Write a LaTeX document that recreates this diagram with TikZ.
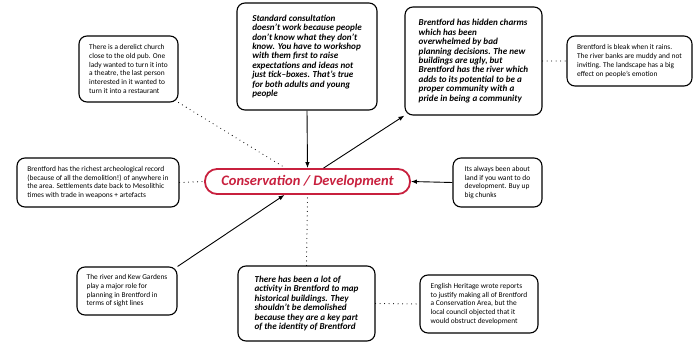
\documentclass[tikz,border=0pt]{standalone}
\usepackage{fontspec}
\setmainfont{Carlito}
\usetikzlibrary{arrows.meta,calc}
\definecolor{conred}{RGB}{200,32,62}

\begin{document}
\begin{tikzpicture}[x=1pt,y=-1pt,%
    note/.style={draw,line width=1.1pt,rounded corners=8pt,align=left,%
    inner sep=4pt,font=\fontsize{7.4}{8.7}\selectfont},%
    quote/.style={note,font=\fontsize{9.1}{9.4}\selectfont\bfseries\itshape},%
    hub/.style={draw=conred,line width=1.8pt,rounded corners=12pt,text=conred,%
    minimum width=205pt,minimum height=25pt,inner sep=0pt,%
    font=\fontsize{14.5}{16}\selectfont\bfseries\itshape},%
    arr/.style={line width=0.9pt,-{Latex[length=6pt,width=4.5pt]}},%
    link/.style={line width=1.1pt,line cap=round,dash pattern=on 0pt off 4.5pt}]
  \useasboundingbox (0,0) rectangle (700,342);
  \node[hub] (central) at (307.5,181.5) {Conservation / Development};
  \node[note,minimum width=99pt,minimum height=66pt] (church) at (128.5,69)
    {There is a derelict church\\close to the old pub. One\\lady wanted to turn it into\\%
     a theatre, the last person\\interested in it wanted to\\turn it into a restaurant};
  \node[quote,minimum width=140pt,minimum height=107pt] (consult) at (307,56.5)
    {Standard consultation\\doesn't work because people\\don't know what they don't\\%
     know. You have to workshop\\with them first to raise\\expectations and ideas not\\%
     just tick--boxes. That's true\\for both adults and young\\people};
  \node[quote,minimum width=137pt,minimum height=108pt] (charms) at (473.5,61)
    {Brentford has hidden charms\\which has been\\overwhelmed by bad\\%
     planning decisions. The new\\buildings are ugly, but\\Brentford has the river which\\%
     adds to its potential to be a\\proper community with a\\pride in being a community};
  \node[note,minimum width=125pt,minimum height=50pt] (bleak) at (629.5,61)
    {Brentford is bleak when it rains.\\The river banks are muddy and not\\%
     inviting. The landscape has a big\\effect on people's emotion};
  \node[note,minimum width=162pt,minimum height=49pt] (arch) at (98,182.5)
    {Brentford has the richest archeological record\\(because of all the demolition!) of anywhere in\\%
     the area. Settlements date back to Mesolithic\\times with trade in weapons + artefacts};
  \node[note,minimum width=89pt,minimum height=49pt] (land) at (497.5,182.5)
    {Its always been about\\land if you want to do\\development. Buy up\\big chunks};
  \node[note,minimum width=100pt,minimum height=48pt] (kew) at (127,291)
    {The river and Kew Gardens\\play a major role for\\planning in Brentford in\\terms of sight lines};
  \node[quote,minimum width=137pt,minimum height=75pt] (activity) at (306.5,303.5)
    {There has been a lot of\\activity in Brentford to map\\historical buildings. They\\%
     shouldn't be demolished\\because they are a key part\\of the identity of Brentford};
  \node[note,minimum width=118pt,minimum height=58pt] (heritage) at (479,304)
    {English Heritage wrote reports\\to justify making all of Brentford\\a Conservation Area, but the\\%
     local council objected that it\\would obstruct development};
  \draw[arr] (consult.south) -- (central.north);
  \draw[arr] ($(central.north)+(16,0)$) -- (charms.south west);
  \draw[arr] (land.west) -- (central.east);
  \draw[arr] (kew.north east) -- ($(central.south)+(-23,0)$);
  \draw[link] (church.south east) -- ($(central.north)+(-22,0)$);
  \draw[link] (arch.east) -- (central.west);
  \draw[link] (activity.north) -- (central.south);
  \draw[link] (activity.east) -- (heritage.west);
  \draw[link] (charms.east) -- (bleak.west);
\end{tikzpicture}
\end{document}
